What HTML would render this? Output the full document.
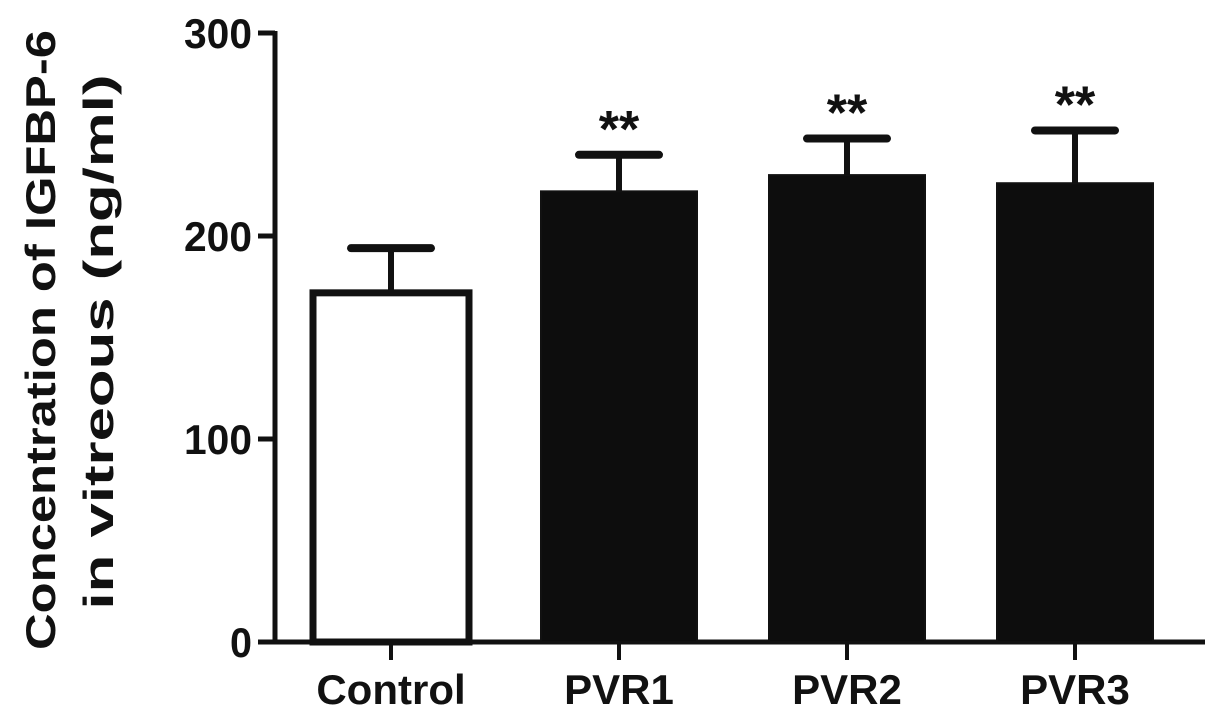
<!DOCTYPE html>
<html><head><meta charset="utf-8"><style>
body{margin:0;background:#fff}
svg text{font-family:"Liberation Sans",Arial,sans-serif;font-weight:bold;fill:#111}
</style></head><body>
<svg width="1205" height="720">
<g id="g"></g>
</svg>
<script>
const categories=["Control","PVR1","PVR2","PVR3"];
const means=[172,222,230,226];
const errors=[22,18,18,26];
const stars=["","**","**","**"];
const yTicks=[0,100,200,300];
const yLabels=["0","100","200","300"];
const ns="http://www.w3.org/2000/svg";
const g=document.getElementById('g');
const y0=642,pxPer=2.03;
function y(v){return y0-v*pxPer;}
function xc(i){return 391+i*228;}
function el(t,a){const e=document.createElementNS(ns,t);for(const k in a)e.setAttribute(k,a[k]);g.appendChild(e);return e;}
let a=el('line',{x1:275,y1:y(300)-2,x2:275,y2:y0+2,stroke:'#111','stroke-width':5});


a=el('line',{x1:258,y1:y0,x2:1205,y2:y0,stroke:'#111','stroke-width':5});


yTicks.forEach((v,i)=>{
 const t=el('line',{x1:258,y1:y(v),x2:275,y2:y(v),stroke:'#111','stroke-width':5});
 
 
 const l=el('text',{x:252,y:y(v)+15,'text-anchor':'end','font-size':42,textLength:v?68:22,lengthAdjust:'spacingAndGlyphs'});
 l.textContent=yLabels[i];
 
 
});
categories.forEach((c,i)=>{
 const cx=xc(i),w=156;
 const e=el('line',{x1:cx,y1:y(means[i]),x2:cx,y2:y(means[i]+errors[i]),stroke:'#111','stroke-width':6});
 
 
 const cap=el('line',{x1:cx-40,y1:y(means[i]+errors[i]),x2:cx+40,y2:y(means[i]+errors[i]),stroke:'#111','stroke-width':8,'stroke-linecap':'round'});
 
 
 const b=el('rect',{x:cx-w/2,y:y(means[i]),width:w,height:y0-y(means[i]),fill:i==0?'#fff':'#0d0d0d',stroke:'#111','stroke-width':i==0?7:2});
 
 
 const tk=el('line',{x1:cx,y1:y0,x2:cx,y2:y0+18,stroke:'#111','stroke-width':4});
 
 
 const l=el('text',{x:cx,y:704,'text-anchor':'middle','font-size':42});
 l.textContent=c;
 
 
 if(stars[i]){
  const s=el('text',{x:cx,y:y(means[i]+errors[i])-8,'text-anchor':'middle','font-size':52});
  s.textContent=stars[i];
  
  
 }
});
const t=el('text',{transform:'translate(55,340) rotate(-90)','text-anchor':'middle','font-size':42,textLength:620,lengthAdjust:'spacingAndGlyphs'});
t.textContent='Concentration of IGFBP-6';


const t2=el('text',{transform:'translate(113,342) rotate(-90)','text-anchor':'middle','font-size':42,textLength:535,lengthAdjust:'spacingAndGlyphs'});
t2.textContent='in vitreous (ng/ml)';


</script>
</body></html>
